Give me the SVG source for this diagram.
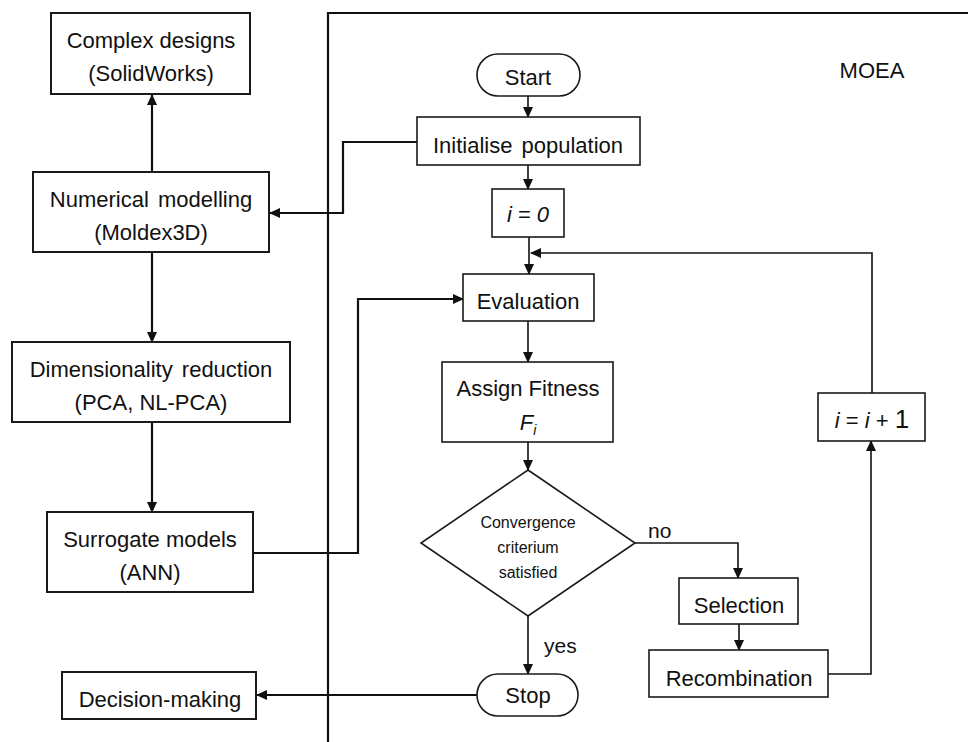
<svg xmlns="http://www.w3.org/2000/svg" width="968" height="742" viewBox="0 0 968 742">
<defs>
<style>
.box{fill:#fff;stroke:#1a1a1a;stroke-width:2}
.box2{fill:#fff;stroke:#1a1a1a;stroke-width:1.6}
.t{font-family:"Liberation Sans",Arial,sans-serif;font-size:22px;fill:#111;text-anchor:middle}
.s{font-family:"Liberation Sans",Arial,sans-serif;font-size:16px;fill:#111;text-anchor:middle}
.l{font-family:"Liberation Sans",Arial,sans-serif;font-size:21px;fill:#111}
.it{font-style:italic}
.thick{fill:none;stroke:#111;stroke-width:2.2}
.thin{fill:none;stroke:#111;stroke-width:1.6}
</style>
<marker id="ah" markerUnits="userSpaceOnUse" markerWidth="11" markerHeight="10" refX="10" refY="5" orient="auto">
<path d="M0,0 L11,5 L0,10 z" fill="#111"/>
</marker>
</defs>
<rect width="968" height="742" fill="#fff"/>
<g id="frame">
<path d="M328,742 V13 H968" fill="none" stroke="#111" stroke-width="2.2"/>
<text class="t" x="872" y="78">MOEA</text>
</g>
<g id="connectors">
<path class="thick" d="M152,172 V95" marker-end="url(#ah)"/>
<path class="thick" d="M152,252 V342" marker-end="url(#ah)"/>
<path class="thick" d="M152,422 V512" marker-end="url(#ah)"/>
<path class="thick" d="M417,142 H343 V213 H270" marker-end="url(#ah)"/>
<path class="thick" d="M253,553 H358 V299 H463" marker-end="url(#ah)"/>
<path class="thick" d="M477,695 H257" marker-end="url(#ah)"/>
<path class="thin" d="M528,96 V117" marker-end="url(#ah)"/>
<path class="thin" d="M528,165 V189" marker-end="url(#ah)"/>
<path class="thin" d="M529,237 V274" marker-end="url(#ah)"/>
<path class="thin" d="M872,393 V253 H531" marker-end="url(#ah)"/>
<path class="thin" d="M528,321 V362" marker-end="url(#ah)"/>
<path class="thin" d="M528,442 V470" marker-end="url(#ah)"/>
<path class="thin" d="M528,616 V674" marker-end="url(#ah)"/>
<path class="thin" d="M635,543 H738 V578" marker-end="url(#ah)"/>
<path class="thin" d="M739,624 V650" marker-end="url(#ah)"/>
<path class="thin" d="M828,674 H871 V441" marker-end="url(#ah)"/>
<text class="l" x="648" y="538">no</text>
<text class="l" x="544" y="653">yes</text>
</g>
<g id="complex">
<rect class="box" x="51" y="13" width="199" height="81"/>
<text class="t" x="151" y="48">Complex designs</text>
<text class="t" x="151" y="81">(SolidWorks)</text>
</g>
<g id="numerical">
<rect class="box" x="33" y="172" width="236" height="80"/>
<text class="t" x="151" y="207" word-spacing="3">Numerical modelling</text>
<text class="t" x="151" y="240">(Moldex3D)</text>
</g>
<g id="dimred">
<rect class="box" x="12" y="342" width="278" height="80"/>
<text class="t" x="151" y="377" word-spacing="3">Dimensionality reduction</text>
<text class="t" x="151" y="410">(PCA, NL-PCA)</text>
</g>
<g id="surrogate">
<rect class="box" x="47" y="512" width="206" height="80"/>
<text class="t" x="150" y="547">Surrogate models</text>
<text class="t" x="150" y="580">(ANN)</text>
</g>
<g id="decision">
<rect class="box" x="62" y="672" width="194" height="47"/>
<text class="t" x="160" y="707">Decision-making</text>
</g>
<g id="start">
<rect class="box2" x="477" y="54" width="103" height="42" rx="21"/>
<text class="t" x="528" y="85">Start</text>
</g>
<g id="init">
<rect class="box2" x="417" y="117" width="223" height="48"/>
<text class="t" x="528" y="153" word-spacing="3">Initialise population</text>
</g>
<g id="i0">
<rect class="box2" x="492" y="189" width="72" height="48"/>
<text class="t" x="528" y="222"><tspan class="it">i</tspan> = <tspan class="it">0</tspan></text>
</g>
<g id="evaluation">
<rect class="box2" x="463" y="274" width="131" height="47"/>
<text class="t" x="528" y="309">Evaluation</text>
</g>
<g id="fitness">
<rect class="box2" x="442" y="362" width="171" height="80"/>
<text class="t" x="528" y="396">Assign Fitness</text>
<text class="t" x="528" y="430"><tspan class="it">F</tspan><tspan class="it" font-size="14" dy="5">i</tspan></text>
</g>
<g id="convergence">
<polygon class="box2" points="528,470 635,543 528,616 421,543"/>
<text class="s" x="528" y="528">Convergence</text>
<text class="s" x="528" y="553">criterium</text>
<text class="s" x="528" y="578">satisfied</text>
</g>
<g id="stop">
<rect class="box2" x="477" y="674" width="101" height="42" rx="21"/>
<text class="t" x="528" y="703">Stop</text>
</g>
<g id="selection">
<rect class="box2" x="679" y="578" width="119" height="46"/>
<text class="t" x="739" y="613">Selection</text>
</g>
<g id="recombination">
<rect class="box2" x="649" y="650" width="179" height="47"/>
<text class="t" x="739" y="686">Recombination</text>
</g>
<g id="inc">
<rect class="box2" x="818" y="393" width="107" height="48"/>
<text class="t" x="872" y="428"><tspan class="it">i</tspan> = <tspan class="it">i</tspan> + <tspan font-size="26">1</tspan></text>
</g>
</svg>
